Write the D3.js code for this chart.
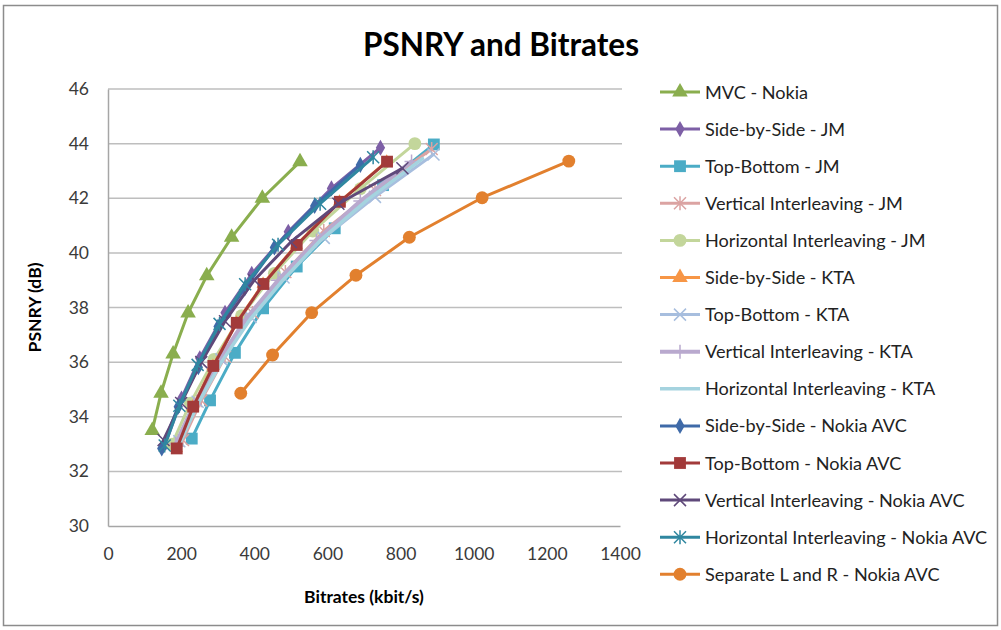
<!DOCTYPE html>
<html>
<head>
<meta charset="utf-8">
<script src="https://cdn.jsdelivr.net/npm/d3@7"></script>
<style>
  html, body { margin: 0; padding: 0; background: #fff; }
  svg { display: block; font-family: Lato, "Open Sans", sans-serif; }
</style>
</head>
<body>
<svg id="chart" width="1001" height="630"></svg>
<script>
// ---------------- DATA ----------------
const chartTitle = "PSNRY and Bitrates";
const xAxisTitle = "Bitrates (kbit/s)";
const yAxisTitle = "PSNRY (dB)";
const xTicks = [0, 200, 400, 600, 800, 1000, 1200, 1400];
const yTicks = [30, 32, 34, 36, 38, 40, 42, 44, 46];

const seriesNames = [
  "MVC - Nokia",
  "Side-by-Side - JM",
  "Top-Bottom - JM",
  "Vertical Interleaving - JM",
  "Horizontal Interleaving - JM",
  "Side-by-Side - KTA",
  "Top-Bottom - KTA",
  "Vertical Interleaving - KTA",
  "Horizontal Interleaving - KTA",
  "Side-by-Side - Nokia AVC",
  "Top-Bottom - Nokia AVC",
  "Vertical Interleaving - Nokia AVC",
  "Horizontal Interleaving - Nokia AVC",
  "Separate L and R - Nokia AVC"
];

const mvcNokiaX  = [121, 145, 178, 219, 270, 338, 422, 525];
const mvcNokiaY  = [33.5, 34.86, 36.3, 37.8, 39.16, 40.57, 42.0, 43.34];
const sbsJmX     = [158, 201, 251, 320, 393, 493, 611, 745];
const sbsJmY     = [33.05, 34.67, 36.14, 37.81, 39.23, 40.77, 42.36, 43.85];
const tbJmX      = [229, 279, 347, 424, 516, 620, 752, 891];
const tbJmY      = [33.2, 34.6, 36.34, 37.97, 39.5, 40.9, 42.48, 43.97];
const viJmX      = [205, 255, 320, 395, 485, 590, 730, 885];
const viJmY      = [33.15, 34.6, 36.2, 37.8, 39.3, 40.8, 42.3, 43.8];
const hiJmX      = [175, 225, 290, 365, 455, 560, 690, 839];
const hiJmY      = [33.0, 34.5, 36.1, 37.7, 39.25, 40.8, 42.35, 44.0];
const sbsKtaX    = [187, 232, 287, 351, 424, 515, 633, 762];
const sbsKtaY    = [32.85, 34.37, 35.86, 37.44, 38.86, 40.29, 41.87, 43.34];
const tbKtaX     = [195, 245, 310, 390, 480, 590, 730, 890];
const tbKtaY     = [33.1, 34.55, 36.1, 37.65, 39.1, 40.55, 42.05, 43.6];
const viKtaX     = [185, 235, 300, 375, 465, 570, 690, 830];
const viKtaY     = [33.0, 34.45, 36.0, 37.55, 39.0, 40.45, 41.9, 43.35];
const hiKtaX     = [195, 245, 310, 385, 475, 580, 710, 860];
const hiKtaY     = [33.0, 34.45, 36.0, 37.5, 38.95, 40.45, 41.95, 43.45];
const sbsAvcX    = [147, 192, 247, 301, 374, 455, 565, 690];
const sbsAvcY    = [32.84, 34.37, 35.81, 37.3, 38.7, 40.2, 41.72, 43.22];
const tbAvcX     = [188, 233, 288, 352, 425, 516, 634, 763];
const tbAvcY     = [32.84, 34.37, 35.86, 37.44, 38.86, 40.29, 41.87, 43.34];
const viAvcX     = [152, 200, 255, 320, 400, 500, 630, 805];
const viAvcY     = [33.15, 34.5, 36.0, 37.5, 39.0, 40.4, 41.8, 43.1];
const hiAvcX     = [155, 195, 245, 305, 375, 465, 580, 725];
const hiAvcY     = [32.95, 34.4, 35.9, 37.4, 38.85, 40.3, 41.8, 43.5];
const sepAvcX    = [363, 450, 557, 678, 824, 1023, 1260];
const sepAvcY    = [34.86, 36.26, 37.81, 39.18, 40.57, 42.02, 43.36];

const seriesX = [mvcNokiaX, sbsJmX, tbJmX, viJmX, hiJmX, sbsKtaX, tbKtaX, viKtaX, hiKtaX, sbsAvcX, tbAvcX, viAvcX, hiAvcX, sepAvcX];
const seriesY = [mvcNokiaY, sbsJmY, tbJmY, viJmY, hiJmY, sbsKtaY, tbKtaY, viKtaY, hiKtaY, sbsAvcY, tbAvcY, viAvcY, hiAvcY, sepAvcY];

// ---------------- STYLE ----------------
const seriesColors = ["#8AAE4E", "#7D5FA6", "#4BACC6", "#DBA3A2", "#C3D69B", "#F79646", "#A7BEDE", "#B9A9CE", "#A5D3DF",
                      "#3F6AA8", "#A23A3A", "#5F497A", "#2F87A0", "#E2802E"];
const seriesMarkers = ["triangle", "diamond", "square", "asterisk", "circle", "triangle", "x", "plus", "none",
                       "diamond", "square", "x", "asterisk", "circle"];
const seriesWidths = [3, 3, 3, 3, 3, 3, 3, 4, 3.5, 3, 3, 3, 3, 3];

const plot = { left: 108, right: 620, top: 89, bottom: 526 };

const svg = d3.select("#chart");

// outer frame
svg.append("rect").attr("x", 3.5).attr("y", 5.5).attr("width", 994).attr("height", 620)
  .attr("fill", "#fff").attr("stroke", "#8c8c8c").attr("stroke-width", 1.5);

const x = d3.scaleLinear().domain([0, 1400]).range([plot.left, plot.right]);
const y = d3.scaleLinear().domain([30, 46]).range([plot.bottom, plot.top]);

// gridlines
svg.append("g").selectAll("line").data(yTicks.filter(t => t > 30)).join("line")
  .attr("x1", plot.left).attr("x2", plot.right + 2)
  .attr("y1", d => y(d)).attr("y2", d => y(d))
  .attr("stroke", "#BEBEBE").attr("stroke-width", 1.5);

// axes via d3
const yAxis = svg.append("g").attr("transform", `translate(${plot.left},0)`)
  .call(d3.axisLeft(y).tickValues(yTicks).tickSize(0).tickPadding(19).tickFormat(d3.format("d")));
yAxis.select(".domain").attr("stroke", "#A6A6A6").attr("stroke-width", 1.5);
yAxis.selectAll("text").attr("font-size", 17.5).attr("fill", "#3a3a3a").attr("font-family", "Lato, sans-serif");

const xAxis = svg.append("g").attr("transform", `translate(0,${plot.bottom})`)
  .call(d3.axisBottom(x).tickValues(xTicks).tickSize(0).tickPadding(22).tickFormat(d3.format("d")));
xAxis.select(".domain").attr("stroke", "#A6A6A6").attr("stroke-width", 1.5);
xAxis.selectAll("text").attr("font-size", 17.5).attr("fill", "#3a3a3a").attr("font-family", "Lato, sans-serif");

// titles
svg.append("text").attr("x", 501).attr("y", 56).attr("text-anchor", "middle")
  .attr("font-size", 31.5).attr("font-weight", "bold").attr("fill", "#000").text(chartTitle);
svg.append("text").attr("x", 364).attr("y", 603).attr("text-anchor", "middle")
  .attr("font-size", 17.5).attr("font-weight", "bold").attr("fill", "#000").text(xAxisTitle);
svg.append("text").attr("transform", `translate(41,${(plot.top + plot.bottom) / 2}) rotate(-90)`)
  .attr("text-anchor", "middle").attr("font-size", 17.5).attr("font-weight", "bold").attr("fill", "#000").text(yAxisTitle);

// marker drawing
function drawMarker(g, type, color, cx, cy, scale) {
  const k = scale || 1;
  const s = 6;
  if (type === "none") return;
  if (type === "triangle") {
    g.append("path").attr("d", d3.symbol(d3.symbolTriangle, 105 * k)()).attr("transform", `translate(${cx},${cy})`).attr("fill", color);
  } else if (type === "diamond") {
    g.append("path").attr("d", d3.symbol(d3.symbolDiamond, 75)()).attr("transform", `translate(${cx},${cy})`).attr("fill", color);
  } else if (type === "square") {
    g.append("path").attr("d", d3.symbol(d3.symbolSquare, 140)()).attr("transform", `translate(${cx},${cy})`).attr("fill", color);
  } else if (type === "circle") {
    g.append("path").attr("d", d3.symbol(d3.symbolCircle, 130)()).attr("transform", `translate(${cx},${cy})`).attr("fill", color);
  } else {
    const p = d3.path();
    if (type === "x" || type === "asterisk") {
      p.moveTo(cx - s, cy - s); p.lineTo(cx + s, cy + s);
      p.moveTo(cx - s, cy + s); p.lineTo(cx + s, cy - s);
    }
    if (type === "asterisk" || type === "plus") {
      p.moveTo(cx, cy - s - 1); p.lineTo(cx, cy + s + 1);
    }
    if (type === "plus") {
      p.moveTo(cx - s - 1, cy); p.lineTo(cx + s + 1, cy);
    }
    g.append("path").attr("d", p.toString()).attr("stroke", color).attr("stroke-width", 1.5).attr("fill", "none");
  }
}

// series
const line = d3.line().x(d => x(d[0])).y(d => y(d[1]));
seriesNames.forEach((name, i) => {
  const pts = seriesX[i].map((v, j) => [v, seriesY[i][j]]);
  const g = svg.append("g");
  g.append("path").datum(pts).attr("d", line)
    .attr("fill", "none").attr("stroke", seriesColors[i]).attr("stroke-width", seriesWidths[i])
    .attr("stroke-linejoin", "round").attr("stroke-linecap", "round");
  const k = i === 5 ? 0.7 : 1;
  pts.forEach(p => drawMarker(g, seriesMarkers[i], seriesColors[i], x(p[0]), y(p[1]), k));
});

// legend
const legendX = 660, legendY0 = 92, legendStep = 37.1;
seriesNames.forEach((name, i) => {
  const g = svg.append("g");
  const ly = legendY0 + i * legendStep;
  g.append("line").attr("x1", legendX).attr("x2", legendX + 40).attr("y1", ly).attr("y2", ly)
    .attr("stroke", seriesColors[i]).attr("stroke-width", seriesWidths[i]);
  drawMarker(g, seriesMarkers[i], seriesColors[i], legendX + 20, ly, 1);
  g.append("text").attr("x", legendX + 45).attr("y", ly + 6.5).attr("font-size", 18.1)
    .attr("fill", "#222").text(name);
});
</script>
</body>
</html>
